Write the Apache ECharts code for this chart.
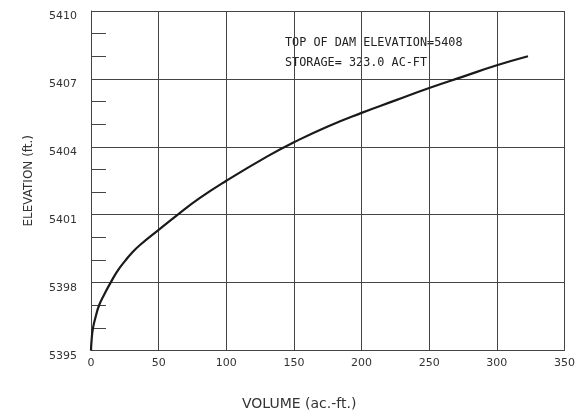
<!DOCTYPE html>
<html>
<head>
<meta charset="utf-8">
<script src="https://cdn.jsdelivr.net/npm/echarts@6/dist/echarts.min.js"></script>
<style>html,body{margin:0;padding:0;background:#fff}#c{width:578px;height:417px}</style>
</head>
<body>
<div id="c"></div>
<script>
const volume = [0, 0.5, 1.5, 3.5, 6, 10, 14.5, 20, 25.5, 30, 36, 50, 63, 80, 100, 131, 150, 175, 200, 225, 250, 275, 300, 323];
const elevation = [5395, 5395.5, 5396, 5396.5, 5397, 5397.5, 5398, 5398.55, 5398.98, 5399.3, 5399.65, 5400.33, 5400.95, 5401.72, 5402.5, 5403.6, 5404.2, 5404.9, 5405.5, 5406.05, 5406.6, 5407.1, 5407.6, 5408];
const xTicks = [0, 50, 100, 150, 200, 250, 300, 350];
const yTicks = [5395, 5398, 5401, 5404, 5407, 5410];
const xTitle = 'VOLUME (ac.-ft.)';
const yTitle = 'ELEVATION (ft.)';
const note1 = 'TOP OF DAM ELEVATION=5408';
const note2 = 'STORAGE= 323.0 AC-FT';

const chart = echarts.init(document.getElementById('c'));
const lineCol = '#444';
chart.setOption({
  animation: false,
  grid: {left: 91, right: 11.5, top: 11, bottom: 66.5},
  xAxis: {
    type: 'value', min: xTicks[0], max: xTicks[xTicks.length-1], interval: 50,
    axisLine: {show: true, lineStyle: {color: lineCol, width: 1}},
    axisTick: {show: false},
    splitLine: {show: true, lineStyle: {color: lineCol, width: 1}},
    axisLabel: {color: '#333', fontFamily: 'DejaVu Sans', fontSize: 11, margin: 7, formatter: v => String(v)}
  },
  yAxis: {
    type: 'value', min: yTicks[0], max: yTicks[yTicks.length-1], interval: 3,
    axisLine: {show: true, lineStyle: {color: lineCol, width: 1}},
    axisTick: {show: true, inside: true, length: 15, lineStyle: {color: lineCol}},
    minorTick: {show: true, splitNumber: 3, length: 15, lineStyle: {color: lineCol, width: 1}},
    splitLine: {show: true, lineStyle: {color: lineCol, width: 1}},
    axisLabel: {color: '#333', fontFamily: 'DejaVu Sans', fontSize: 11, margin: 14, verticalAlign: 'top', formatter: v => String(v)},
    name: yTitle, nameLocation: 'middle', nameRotate: 90, nameGap: 56,
    nameTextStyle: {color: '#333', fontFamily: 'DejaVu Sans', fontSize: 12}
  },
  graphic: [
    {type: 'text', left: 242, top: 397, style: {text: xTitle, fill: '#333', font: '14px "DejaVu Sans"'}},
    {type: 'text', left: 285, top: 37, style: {text: note1, fill: '#222', font: '11.8px "DejaVu Sans Mono"'}},
    {type: 'text', left: 285, top: 57, style: {text: note2, fill: '#222', font: '11.8px "DejaVu Sans Mono"'}}
  ],
  series: [{
    type: 'line', data: volume.map((v, i) => [v, elevation[i]]),
    showSymbol: false, smooth: 0.5,
    lineStyle: {color: '#1a1a1a', width: 2.2}
  }]
});
</script>
</body>
</html>
